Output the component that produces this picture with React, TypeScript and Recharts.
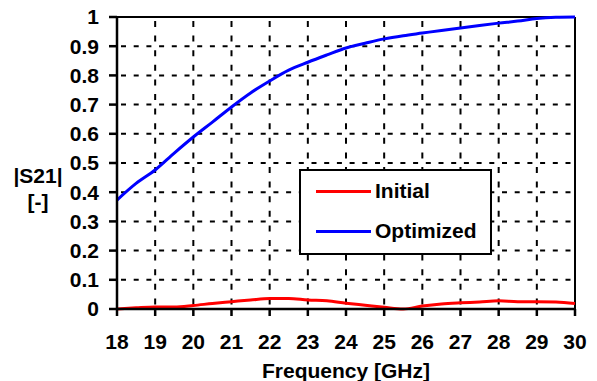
import React from "react";
import { LineChart, Line, XAxis, YAxis, CartesianGrid, Legend, ReferenceLine, Label } from "recharts";

const FREQ = [18, 18.5, 19, 19.5, 20, 20.5, 21, 21.5, 22, 22.5, 23, 23.5, 24, 24.5, 25, 25.5, 26, 26.5, 27, 27.5, 28, 28.5, 29, 29.5, 30];
const INITIAL = [0, 0.004, 0.007, 0.007, 0.012, 0.019, 0.025, 0.031, 0.036, 0.036, 0.031, 0.028, 0.02, 0.013, 0.006, 0.0, 0.01, 0.017, 0.021, 0.024, 0.028, 0.025, 0.025, 0.024, 0.019];
const OPTIMIZED = [0.373, 0.43, 0.476, 0.534, 0.589, 0.64, 0.692, 0.74, 0.781, 0.818, 0.845, 0.87, 0.894, 0.91, 0.925, 0.936, 0.945, 0.954, 0.962, 0.971, 0.979, 0.986, 0.995, 0.999, 1.0];
const X_TICKS = [18, 19, 20, 21, 22, 23, 24, 25, 26, 27, 28, 29, 30];
const Y_TICKS = [0, 0.1, 0.2, 0.3, 0.4, 0.5, 0.6, 0.7, 0.8, 0.9, 1];

const FONT = "'Liberation Sans', Arial, sans-serif";
const FS = 21;

const data = FREQ.map((f, i) => ({ f, initial: INITIAL[i], optimized: OPTIMIZED[i] }));

const tickStyle = { fontFamily: FONT, fontSize: FS, fontWeight: "bold", fill: "#000" };

function LegendBox({ payload }: any) {
    return (
        <div
            style={{
                width: 193,
                height: 86,
                boxSizing: "border-box",
                border: "2px solid #000",
                background: "#fff",
                fontFamily: FONT,
                fontSize: FS,
                fontWeight: "bold",
                color: "#000",
                paddingTop: 0,
            }}
        >
            {(payload || []).map((p: any) => (
                <div key={p.value} style={{ display: "flex", alignItems: "center", height: 40 }}>
                    <div style={{ width: 55, height: 3, background: p.color, marginLeft: 15, marginRight: 4 }} />
                    <span>{p.value}</span>
                </div>
            ))}
        </div>
    );
}

function YTitle() {
    return (
        <text x={38} y={183} textAnchor="middle" style={{ fontFamily: FONT, fontSize: FS, fontWeight: "bold" }} fill="#000">
            <tspan x={38} y={183}>|S21|</tspan>
            <tspan x={38} y={209}>[-]</tspan>
        </text>
    );
}

export default function App() {
    return (
        <div style={{ position: "absolute", left: 0, top: 0, width: 597, height: 381, background: "#fff" }}>
            <LineChart width={597} height={381} data={data} margin={{ top: 17, right: 22, bottom: 0, left: 0 }}>
                <CartesianGrid horizontal={true} vertical={false} stroke="#000" strokeWidth={2} strokeDasharray="5 7.7" strokeDashoffset={-4} />
                <CartesianGrid horizontal={false} vertical={true} stroke="#000" strokeWidth={2} strokeDasharray="6 8.6" strokeDashoffset={-4} />
                <XAxis
                    dataKey="f"
                    type="number"
                    domain={[18, 30]}
                    ticks={X_TICKS}
                    height={72}
                    stroke="#000"
                    strokeWidth={2.5}
                    tickSize={7}
                    tickMargin={18}
                    tick={tickStyle}
                    interval={0}
                >
                    <Label value="Frequency [GHz]" position="insideBottom" offset={3} style={{ fontFamily: FONT, fontSize: FS, fontWeight: "bold", fill: "#000" }} />
                </XAxis>
                <YAxis
                    type="number"
                    domain={[0, 1]}
                    ticks={Y_TICKS}
                    width={117}
                    stroke="#000"
                    strokeWidth={2.5}
                    tickSize={8}
                    tickMargin={10}
                    tick={tickStyle}
                    interval={0}
                    tickFormatter={(v) => String(Math.round(v * 10) / 10)}
                >
                    <Label content={<YTitle />} />
                </YAxis>
                <ReferenceLine y={1} stroke="#000" strokeWidth={2} />
                <ReferenceLine x={30} stroke="#000" strokeWidth={2} />
                <Line dataKey="initial" name="Initial" stroke="#ff0000" strokeWidth={3} dot={false} type="monotone" isAnimationActive={false} />
                <Line dataKey="optimized" name="Optimized" stroke="#0000ff" strokeWidth={3} dot={false} type="monotone" isAnimationActive={false} />
                <Legend
                    layout="vertical"
                    align="center"
                    verticalAlign="middle"
                    content={<LegendBox />}
                    wrapperStyle={{ left: 299, top: 169, width: 193, height: 86 }}
                />
            </LineChart>
        </div>
    );
}
